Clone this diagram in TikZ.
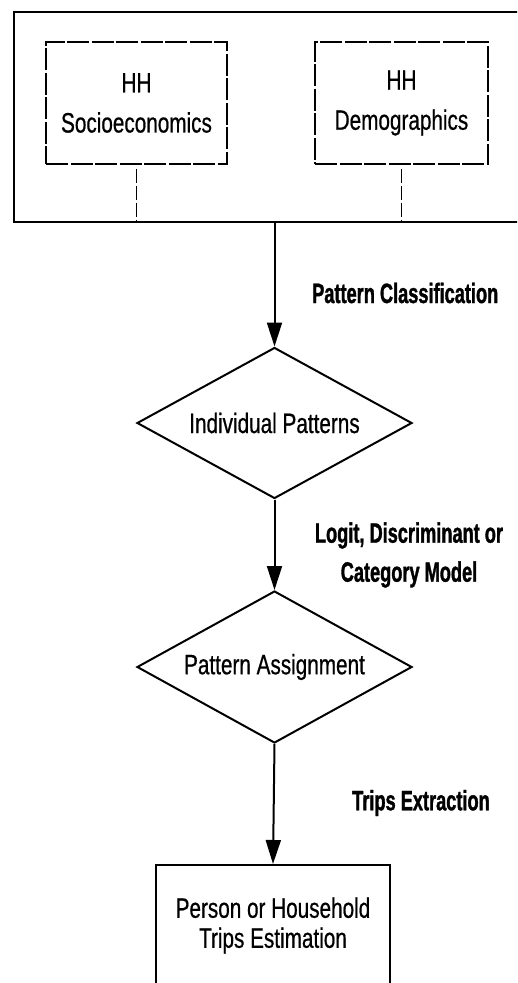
\documentclass[tikz,border=0pt]{standalone}
\usepackage{fontspec}
\setmainfont{Liberation Sans}[FakeStretch=0.74, FakeBold=0.6]
\newfontfamily\lblfont{Liberation Sans}[FakeStretch=0.65, BoldFeatures={FakeBold=1.2}]
\usetikzlibrary{shapes.geometric,arrows.meta}
\begin{document}
\begin{tikzpicture}[x=1pt,y=-1pt,
  outerbox/.style={draw, line width=2.2pt, rectangle, inner sep=0pt},
  inbox/.style={draw, line width=1.4pt, dash pattern=on 22pt off 2.5pt, rectangle, inner sep=0pt, align=center, font=\fontsize{28}{40}\selectfont},
  dia/.style={draw, line width=2pt, diamond, aspect=1.8, inner sep=0pt, minimum width=275pt, font=\fontsize{28}{30}\selectfont},
  endbox/.style={draw, line width=2pt, rectangle, inner sep=0pt, align=center, font=\fontsize{28}{30}\selectfont},
  dline/.style={line width=1.4pt, dash pattern=on 14pt off 3pt},
  arr/.style={line width=2pt, -{Triangle[length=24pt, width=15pt]}},
  lbl/.style={font=\lblfont\bfseries\fontsize{28}{39}\selectfont, align=center, inner sep=0pt}]
\useasboundingbox (0,0) rectangle (517,983);
\clip (0,0) rectangle (517,983);
\fill[white] (0,0) rectangle (517,983);
% outer box
\node[outerbox, minimum width=511pt, minimum height=210pt] (outer) at (269.5,117) {};
\node[inbox, minimum width=181pt, minimum height=122pt] (soc) at (136.5,103) {HH\\Socioeconomics};
\node[inbox, minimum width=173pt, minimum height=122pt] (dem) at (401.5,103) {HH\\Demographics};
\draw[dline] ([yshift=-4pt]soc.south) -- (soc.south |- outer.south);
\draw[dline] ([yshift=-4pt]dem.south) -- (dem.south |- outer.south);
% diamonds
\node[dia, minimum height=151pt] (ip) at (274.5,423) {Individual Patterns};
\node[dia, minimum height=152pt] (pa) at (274.5,667) {Pattern Assignment};
\node[endbox, minimum width=234pt, minimum height=121pt] (est) at (273,925.5) {Person or Household\\Trips Estimation};
% connectors
\draw[arr] (ip.north |- outer.south) -- (ip.north);
\draw[arr] (ip.south) -- (pa.north);
\draw[arr] (pa.south) -- (est.north);
% labels
\node[lbl, anchor=west] (lpc) at (312,293) {Pattern Classification};
\node[lbl] (llogit) at (409,555) {Logit, Discriminant or\\Category Model};
\node[lbl, anchor=west] (lte) at (352,803) {Trips Extraction};
\end{tikzpicture}
\end{document}
